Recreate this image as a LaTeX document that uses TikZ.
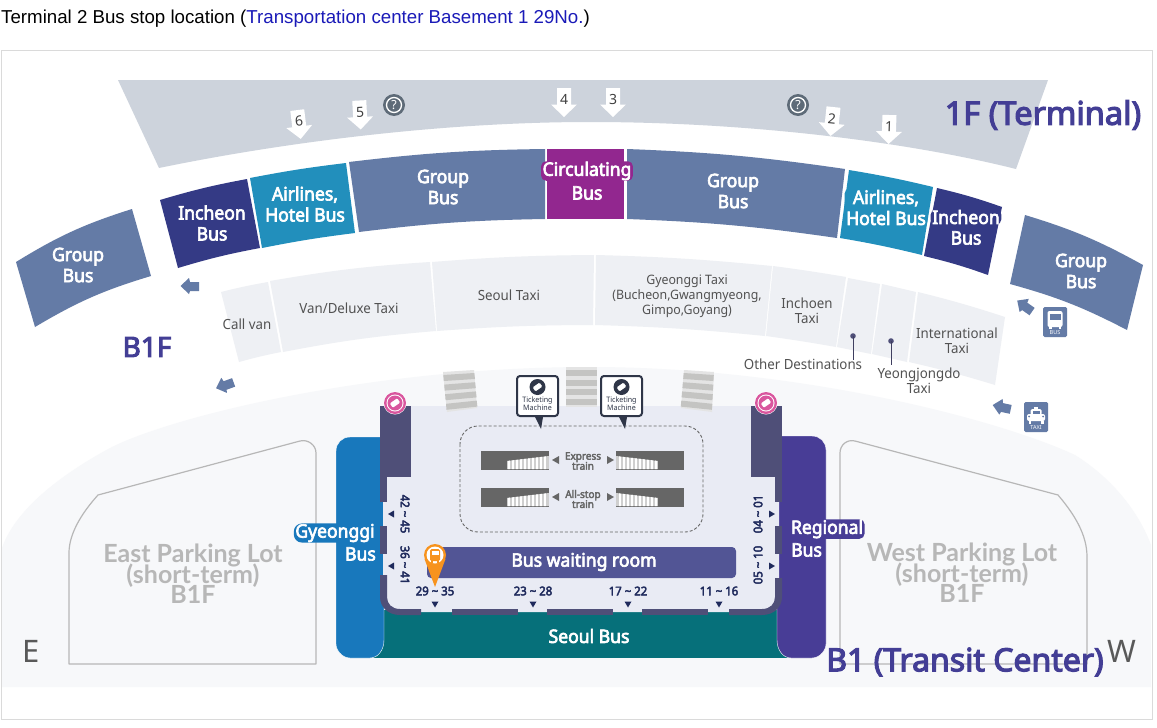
\documentclass[tikz,border=0pt]{standalone}
\usepackage{fontspec}
\usepackage{xcolor}
\usepackage{tikz}
\setmainfont{Noto Sans}
\newfontfamily\medfont[FakeBold=3.5,FakeStretch=0.95]{Noto Sans}
\newfontfamily\titlefont[FakeBold=3.5]{Noto Sans}
\newfontfamily\taxifont[FakeStretch=0.95]{Noto Sans}
\newfontfamily\headfont{Liberation Sans}
\newfontfamily\parkfont{Lato}
\lineskiplimit=-20pt
\definecolor{termgrey}{HTML}{CDD3DC}
\definecolor{groupblue}{HTML}{647BA6}
\definecolor{inchnavy}{HTML}{343A85}
\definecolor{airteal}{HTML}{228FBC}
\definecolor{circpurple}{HTML}{92278F}
\definecolor{taxigrey}{HTML}{EEF0F4}
\definecolor{bgpale}{HTML}{F7F8FA}
\definecolor{roomlight}{HTML}{E9EBF4}
\definecolor{walldark}{HTML}{4F4F78}
\definecolor{seoulteal}{HTML}{06707A}
\definecolor{gyeongblue}{HTML}{1878BC}
\definecolor{regionviolet}{HTML}{483D96}
\definecolor{waitblue}{HTML}{525595}
\definecolor{titleviolet}{HTML}{433E95}
\definecolor{headblue}{HTML}{1A1AB8}
\definecolor{framegrey}{HTML}{DADADA}
\definecolor{traingrey}{HTML}{666666}
\definecolor{stairgrey}{HTML}{CFCFCF}
\definecolor{crossgrey}{HTML}{C4C4C2}
\definecolor{crosslight}{HTML}{E4E4E4}
\definecolor{parkgrey}{HTML}{B7B7B7}
\definecolor{pinorange}{HTML}{F7931E}
\definecolor{gatepink}{HTML}{D9569E}
\definecolor{helpgrey}{HTML}{5E6B78}
\definecolor{labelnavy}{HTML}{1F2A5C}
\definecolor{machinedark}{HTML}{2F3648}
\tikzset{
  buslabel/.style={text=white, align=center, inner sep=1.5pt, rounded corners=5pt,
    font=\medfont\fontsize{18.5}{21}\selectfont},
  taxilabel/.style={text=black!68, align=center, inner sep=0pt,
    font=\taxifont\fontsize{14}{15}\selectfont},
  titlelabel/.style={text=titleviolet, inner sep=0pt},
  parklabel/.style={text=parkgrey, align=center, inner sep=0pt,
    font=\parkfont\bfseries\fontsize{25}{20.5}\selectfont},
  standlabel/.style={text=labelnavy, inner sep=0pt,
    font=\medfont\fontsize{12}{14}\selectfont},
  trainlabel/.style={text=traingrey, align=center, inner sep=0pt,
    font=\medfont\fontsize{10.5}{10}\selectfont},
  machinelabel/.style={text=machinedark, align=center, inner sep=0pt,
    font=\taxifont\fontsize{7.5}{8}\selectfont},
  parkline/.style={draw=parkgrey, line width=1.2pt, line join=round},
  taxiarea/.style={fill=taxigrey},
  crossstripe/.style={fill=crossgrey},
  waitroom/.style={fill=waitblue, rounded corners=4pt, text=white}
}
\newcommand{\gatearrow}[4]{%
  \begin{scope}[shift={(#1,#2)},rotate=#3]
    \fill[white] (-7,-14.5) -- (7,-14.5) -- (7,2) -- (13,2) -- (0,14.5) -- (-13,2) -- (-7,2) -- cycle;
  \end{scope}
  \node[text=black!75, inner sep=0pt, rotate=#3, font=\fontsize{14}{15}\selectfont] (gate#4) at (#1,#2-3) {#4};}
\newcommand{\dirarrow}[3]{%
  \begin{scope}[shift={(#1,#2)},rotate=#3]
    \fill[groupblue] (-9.5,0) -- (-1,-8) -- (0,-4) -- (9,-4) -- (9,5) -- (0,5) -- (-1,8) -- cycle;
  \end{scope}}
\newcommand{\ticketicon}[4]{%
  \begin{scope}[shift={(#1,#2)},rotate=35,scale=#3]
    \fill[#4, rounded corners=1pt] (-6,-3.5) rectangle (6,3.5);
  \end{scope}}
\newcommand{\trainblock}[3]{%
  \begin{scope}[shift={(#1,#2)},xscale=#3]
    \fill[traingrey] (0,0) rectangle (68,19);
    \begin{scope}
      \clip (26,10) -- (68,5) -- (68,18) -- (26,18) -- cycle;
      \fill[stairgrey] (26,0) rectangle (68,19);
      \foreach \sx in {28,32,...,66} \draw[white, line width=1.2pt] (\sx,0) -- (\sx,19);
    \end{scope}
  \end{scope}}
\newcommand{\helpicon}[3]{%
  \fill[helpgrey] (#1,#2) circle (11);
  \draw[white, line width=1.3pt] (#1,#2) circle (7.5);
  \node[text=white, inner sep=0pt, font=\bfseries\fontsize{12.5}{13}\selectfont] (#3) at (#1,#2) {?};}
\newcommand{\machinebox}[3]{%
  \fill[machinedark] (#1+18,417) -- (#1+24,#2) -- (#1+26,417) -- cycle;
  \draw[machinedark, fill=white, line width=2pt, rounded corners=3pt] (#1,376) rectangle (#1+41,416);
  \fill[machinedark] (#1+20.5,387) circle (8);
  \ticketicon{#1+20.5}{387}{0.7}{white}
  \node[machinelabel] (#3) at (#1+20.5,404) {Ticketing\\Machine};}
\newcommand{\standrange}[2]{#1 {\char"7E} #2}
\begin{document}
\begin{tikzpicture}[x=1pt,y=-1pt]
  \useasboundingbox (0,0) rectangle (1157,728);
  \fill[white] (0,0) rectangle (1157,728);

  \node[anchor=west, inner sep=0pt, font=\headfont\fontsize{18.7}{20}\selectfont] (head) at (1,19)
    {Terminal 2 Bus stop location (\textcolor{headblue}{Transportation center Basement 1 29No.})};
  \draw[framegrey, line width=1pt] (1,50) rectangle (1152,719);

  \fill[bgpale] (2,687) -- (2,548) .. controls (15,510) and (60,475) .. (110,448)
    .. controls (170,417) and (370,367) .. (590,367)
    .. controls (800,367) and (1000,420) .. (1075,455)
    .. controls (1115,480) and (1140,515) .. (1151,545) -- (1151,687) -- cycle;

  \fill[termgrey] (118,80) -- (1048,80) -- (1016,169) .. controls (900,140) and (740,122) .. (590,122)
    .. controls (440,122) and (280,143) .. (159,168) -- cycle;

  \fill[groupblue] (16,262) to[bend left=7] (132,209) -- (151,276) to[bend right=7] (35,327) -- cycle;
  \fill[inchnavy] (160,200) to[bend left=3] (247,179) -- (260,248) to[bend right=3] (178,268) -- cycle;
  \fill[airteal] (250,178) to[bend left=2] (346,163) -- (355,233) to[bend right=2] (262,248) -- cycle;
  \fill[groupblue] (349,162) to[bend left=3] (545,149) -- (545,219) to[bend right=3] (359,232) -- cycle;
  \fill[circpurple] (547,149) rectangle (624,219);
  \fill[groupblue] (627,149) to[bend left=3] (845,169) -- (837,238) to[bend right=3] (627,219) -- cycle;
  \fill[airteal] (849,170) to[bend left=2] (933,187) -- (922,255) to[bend right=2] (840,238) -- cycle;
  \fill[inchnavy] (937,188) to[bend left=3] (1002,207) -- (988,275) to[bend right=3] (924,256) -- cycle;
  \fill[groupblue] (1025,215) to[bend left=6] (1143,265) -- (1127,330) to[bend right=6] (1010,284) -- cycle;

  \fill[taxiarea] (221,292) to[bend left=2] (268,282) -- (281,352) to[bend right=2] (239,362) -- cycle;
  \fill[taxiarea] (270,281) to[bend left=3] (430,262) -- (436,331) to[bend right=3] (283,352) -- cycle;
  \fill[taxiarea] (432,262) to[bend left=2] (594,255) -- (593,325) to[bend right=2] (437,331) -- cycle;
  \fill[taxiarea] (596,255) to[bend left=2] (772,266) -- (765,336) to[bend right=2] (595,325) -- cycle;
  \fill[taxiarea] (773,266) to[bend left=1] (846,277) -- (836,347) to[bend right=1] (766,336) -- cycle;
  \fill[taxiarea] (848,278) -- (880,284) -- (871,354) -- (837,347) -- cycle;
  \fill[taxiarea] (882,284) -- (916,292) -- (907,362) -- (872,354) -- cycle;
  \fill[taxiarea] (918,292) to[bend left=2] (1005,317) -- (995,385) to[bend right=2] (909,362) -- cycle;

  \fill[walldark] (853,336) circle (2.8);
  \draw[walldark!80!black] (853,336) -- (853,360);
  \fill[walldark] (891,341) circle (2.8);
  \draw[walldark!80!black] (891,341) -- (891,365);

  % lower level
  \fill[seoulteal] (373,610) rectangle (790,658);
  \fill[gyeongblue, draw=white] (350,437) -- (384,437) -- (384,640) .. controls (384,650) and (378,658) .. (370,658) -- (350,658)
    .. controls (342,658) and (336,650) .. (336,644) -- (336,451) .. controls (336,443) and (342,437) .. (350,437) -- cycle;
  \fill[regionviolet, draw=white] (812,436) -- (777,436) -- (777,640) .. controls (777,650) and (783,658) .. (791,658) -- (812,658)
    .. controls (820,658) and (826,650) .. (826,644) -- (826,450) .. controls (826,442) and (820,436) .. (812,436) -- cycle;

  \fill[roomlight, rounded corners=12pt] (383,406) -- (779,406) -- (779,612) -- (383,612) -- cycle;
  \fill[roomlight] (383,406) rectangle (779,450);

  \fill[walldark] (380,406) rectangle (411,477);
  \fill[walldark] (380,477) rectangle (387,502);
  \fill[walldark] (380,526) rectangle (387,554);
  \fill[walldark] (380,575) -- (387,575) -- (387,597) .. controls (387,604) and (392,609) .. (400,609)
    -- (421,609) -- (421,615) -- (400,615) .. controls (388,615) and (380,607) .. (380,597) -- cycle;
  \fill[walldark] (452,609) rectangle (518,615);
  \fill[walldark] (547,609) rectangle (613,615);
  \fill[walldark] (642,609) rectangle (708,615);
  \fill[walldark] (751,406) rectangle (782,477);
  \fill[walldark] (775,477) rectangle (782,502);
  \fill[walldark] (775,526) rectangle (782,554);
  \fill[walldark] (782,578) -- (775,578) -- (775,597) .. controls (775,604) and (770,609) .. (762,609)
    -- (729,609) -- (729,615) -- (762,615) .. controls (774,615) and (782,607) .. (782,597) -- cycle;

  \fill[crosslight] (443,372) -- (474,370) -- (477,408) -- (447,412) -- cycle;
  \foreach \sy in {0,1,2,3} {
    \fill[crossstripe] (443.3+\sy*0.9,375+\sy*9.6) -- (474.3+\sy*0.8,373+\sy*9.2) -- (475+\sy*0.8,379+\sy*9.2) -- (443.8+\sy*0.9,381+\sy*9.6) -- cycle;
  }
  \fill[crosslight] (566,367) rectangle (597,407);
  \foreach \sy in {0,1,2,3} {
    \fill[crossstripe] (566,370+\sy*9.6) rectangle (597,376+\sy*9.6);
  }
  \fill[crosslight] (684,370) -- (714,372) -- (712,412) -- (681,408) -- cycle;
  \foreach \sy in {0,1,2,3} {
    \fill[crossstripe] (683.7-\sy*0.8,373+\sy*9.2) -- (713.8-\sy*0.5,375+\sy*9.6) -- (713.4-\sy*0.5,381+\sy*9.6) -- (683.2-\sy*0.8,379+\sy*9.2) -- cycle;
  }

  \draw[traingrey, line width=0.9pt, densely dashed, rounded corners=18pt] (460,426) rectangle (703,532);
  \trainblock{481}{451}{1}
  \trainblock{684}{451}{-1}
  \trainblock{481}{488}{1}
  \trainblock{684}{488}{-1}
  \fill[traingrey] (552,460) -- (559,456) -- (559,464) -- cycle;
  \fill[traingrey] (614,460) -- (607,456) -- (607,464) -- cycle;
  \fill[traingrey] (552,497) -- (559,493) -- (559,501) -- cycle;
  \fill[traingrey] (614,497) -- (607,493) -- (607,501) -- cycle;
  \node[trainlabel] (express) at (583,461) {Express\\train};
  \node[trainlabel] (allstop) at (583,499) {All-stop\\train};

  \machinebox{517}{429}{machineleft}
  \machinebox{601}{429}{machineright}

  \fill[white] (395,403) circle (11.5);
  \fill[gatepink] (395,403) circle (11);
  \fill[white] (395,403) circle (8.5);
  \fill[gatepink] (395,403) circle (7.5);
  \ticketicon{395}{403}{0.75}{white}
  \fill[white] (766,403) circle (11.5);
  \fill[gatepink] (766,403) circle (11);
  \fill[white] (766,403) circle (8.5);
  \fill[gatepink] (766,403) circle (7.5);
  \ticketicon{766}{403}{0.75}{white}

  \node[waitroom, minimum width=309pt, minimum height=31pt, inner sep=0pt] (room) at (581.5,562.5) {};
  \node[text=white, inner sep=0pt, font=\medfont\fontsize{18.5}{20}\selectfont] (roomtext) at (584,562) {Bus waiting room};

  \fill[pinorange] (424.5,559) -- (435,587) -- (445.5,559) -- cycle;
  \fill[pinorange] (435,555) circle (11);
  \fill[white] (435,555) circle (8.5);
  \fill[pinorange, rounded corners=1.5pt] (430,549) rectangle (440,561);
  \fill[white] (431.5,551) rectangle (438.5,555);
  \fill[pinorange] (431,561) rectangle (433,563);
  \fill[pinorange] (437,561) rectangle (439,563);

  \node[standlabel, rotate=-90] (stand42) at (405,514) {\standrange{42}{45}};
  \node[standlabel, rotate=-90] (stand36) at (405,565) {\standrange{36}{41}};
  \node[standlabel, rotate=90] (stand04) at (758,514) {\standrange{04}{01}};
  \node[standlabel, rotate=90] (stand05) at (758,565) {\standrange{05}{10}};
  \node[standlabel] (stand29) at (435,591) {\standrange{29}{35}};
  \node[standlabel] (stand23) at (533,591) {\standrange{23}{28}};
  \node[standlabel] (stand17) at (628,591) {\standrange{17}{22}};
  \node[standlabel] (stand11) at (719,591) {\standrange{11}{16}};
  \fill[labelnavy] (388,514) -- (394,510.5) -- (394,517.5) -- cycle;
  \fill[labelnavy] (388,566) -- (394,562.5) -- (394,569.5) -- cycle;
  \fill[labelnavy] (775,514) -- (769,510.5) -- (769,517.5) -- cycle;
  \fill[labelnavy] (775,566) -- (769,562.5) -- (769,569.5) -- cycle;
  \foreach \tx in {435,533,628,719} {
    \fill[labelnavy] (\tx,607.5) -- (\tx-3.5,601.5) -- (\tx+3.5,601.5) -- cycle;
  }

  \draw[parkline] (69,664) -- (316,664) -- (316,453) .. controls (316,445) and (308,439) .. (300,441) -- (98,495) .. controls (80,515) and (69,535) .. (69,553) -- cycle;
  \draw[parkline] (840,664) -- (1087,664) -- (1087,557) .. controls (1087,535) and (1075,515) .. (1058,495) -- (855,441) .. controls (847,439) and (840,445) .. (840,453) -- cycle;
  \node[parklabel] (eastlot) at (193,574) {East Parking Lot\\(short-term)\\B1F};
  \node[parklabel] (westlot) at (962,573) {West Parking Lot\\(short-term)\\B1F};

  % bus labels
  \node[buslabel] (group1) at (78,265) {Group\\Bus};
  \node[buslabel] (incheon1) at (212,223) {Incheon\\Bus};
  \node[buslabel] (airline1) at (305,204) {Airlines,\\Hotel Bus};
  \node[buslabel] (group2) at (443,187) {Group\\Bus};
  \node[buslabel, fill=circpurple, inner ysep=0.5pt] (circ1) at (587,171) {Circulating};
  \node[buslabel] (circ2) at (587,193) {Bus};
  \node[buslabel] (group3) at (733,191) {Group\\Bus};
  \node[buslabel, fill=airteal] (airline2) at (886,207.5) {Airlines,\\Hotel Bus};
  \node[buslabel, fill=inchnavy, inner ysep=0.5pt] (incheon2) at (966,217) {Incheon};
  \node[buslabel] (incheon3) at (966,238) {Bus};
  \node[buslabel] (group4) at (1081,271) {Group\\Bus};

  \node[buslabel, fill=gyeongblue, inner ysep=0.5pt, rounded corners=8pt] (gyeong1) at (335,533) {Gyeonggi};
  \node[buslabel, anchor=east] (gyeong2) at (377.5,554) {Bus};
  \node[buslabel, fill=regionviolet, inner ysep=0.5pt] (region1) at (827,529) {Regional};
  \node[buslabel, anchor=west] (region2) at (789.5,550) {Bus};
  \node[buslabel, text=white] (seoul) at (589,636) {Seoul Bus};

  % taxi labels
  \node[taxilabel] (callvan) at (247,324) {Call van};
  \node[taxilabel] (vantaxi) at (349,308) {Van/Deluxe Taxi};
  \node[taxilabel] (seoultaxi) at (509,295) {Seoul Taxi};
  \node[taxilabel, font=\taxifont\fontsize{13}{15}\selectfont] (gyeongtaxi) at (687,296) {Gyeonggi Taxi\\(Bucheon,Gwangmyeong,\\Gimpo,Goyang)};
  \node[taxilabel] (inchtaxi) at (807,311) {Inchoen\\Taxi};
  \node[taxilabel] (inttaxi) at (957,341) {International\\Taxi};
  \node[taxilabel] (othertaxi) at (803,364) {Other Destinations};
  \node[taxilabel] (yeongtaxi) at (919,381) {Yeongjongdo\\Taxi};

  % gate arrows
  \gatearrow{299}{124.5}{7}{6}
  \gatearrow{360}{115}{3}{5}
  \gatearrow{564}{102.5}{0}{4}
  \gatearrow{613}{102.5}{0}{3}
  \gatearrow{832}{121.5}{-6}{2}
  \gatearrow{889}{129.5}{-2}{1}
  \helpicon{394}{105}{help1}
  \helpicon{798}{105}{help2}

  \dirarrow{190}{286}{0}
  \dirarrow{225}{385}{20}
  \dirarrow{1025}{306}{-35}
  \dirarrow{1002}{407}{-12}

  \fill[groupblue, rounded corners=1.5pt] (1043,307) rectangle (1067,337);
  \fill[white, rounded corners=2pt] (1047.5,311) rectangle (1062.5,327);
  \fill[groupblue] (1049.5,314) rectangle (1060.5,320);
  \fill[white] (1049,327) rectangle (1051.5,329);
  \fill[white] (1058.5,327) rectangle (1061,329);
  \node[text=white, inner sep=0pt, font=\bfseries\fontsize{5.5}{6}\selectfont] (busicon) at (1055,333) {BUS};
  \fill[groupblue, rounded corners=1.5pt] (1024,402) rectangle (1048,432);
  \fill[white] (1034,406.5) rectangle (1038,409);
  \fill[white, rounded corners=1.5pt] (1030.5,409) rectangle (1041.5,415);
  \fill[groupblue] (1032.5,410.5) rectangle (1039.5,414);
  \fill[white, rounded corners=2pt] (1027,414) rectangle (1045,421);
  \fill[groupblue] (1029,416.5) circle (1);
  \fill[groupblue] (1043,416.5) circle (1);
  \fill[white] (1028.5,421) rectangle (1031,423.5);
  \fill[white] (1041,421) rectangle (1043.5,423.5);
  \node[text=white, inner sep=0pt, font=\bfseries\fontsize{5.5}{6}\selectfont] (taxiicon) at (1036,428) {TAXI};

  % floor titles
  \node[titlelabel, font=\titlefont\fontsize{32.5}{34}\selectfont] (title1f) at (1043,115) {1F (Terminal)};
  \node[titlelabel, font=\titlefont\fontsize{28}{30}\selectfont] (titleb1f) at (147,347) {B1F};
  \node[titlelabel, font=\titlefont\fontsize{32}{34}\selectfont] (titleb1) at (965,662) {B1 (Transit Center)};
  \node[text=black!65, inner sep=0pt, font=\fontsize{31}{33}\selectfont] (east) at (31,651) {E};
  \node[text=black!65, inner sep=0pt, font=\fontsize{31}{33}\selectfont] (west) at (1122,651) {W};
\end{tikzpicture}
\end{document}
